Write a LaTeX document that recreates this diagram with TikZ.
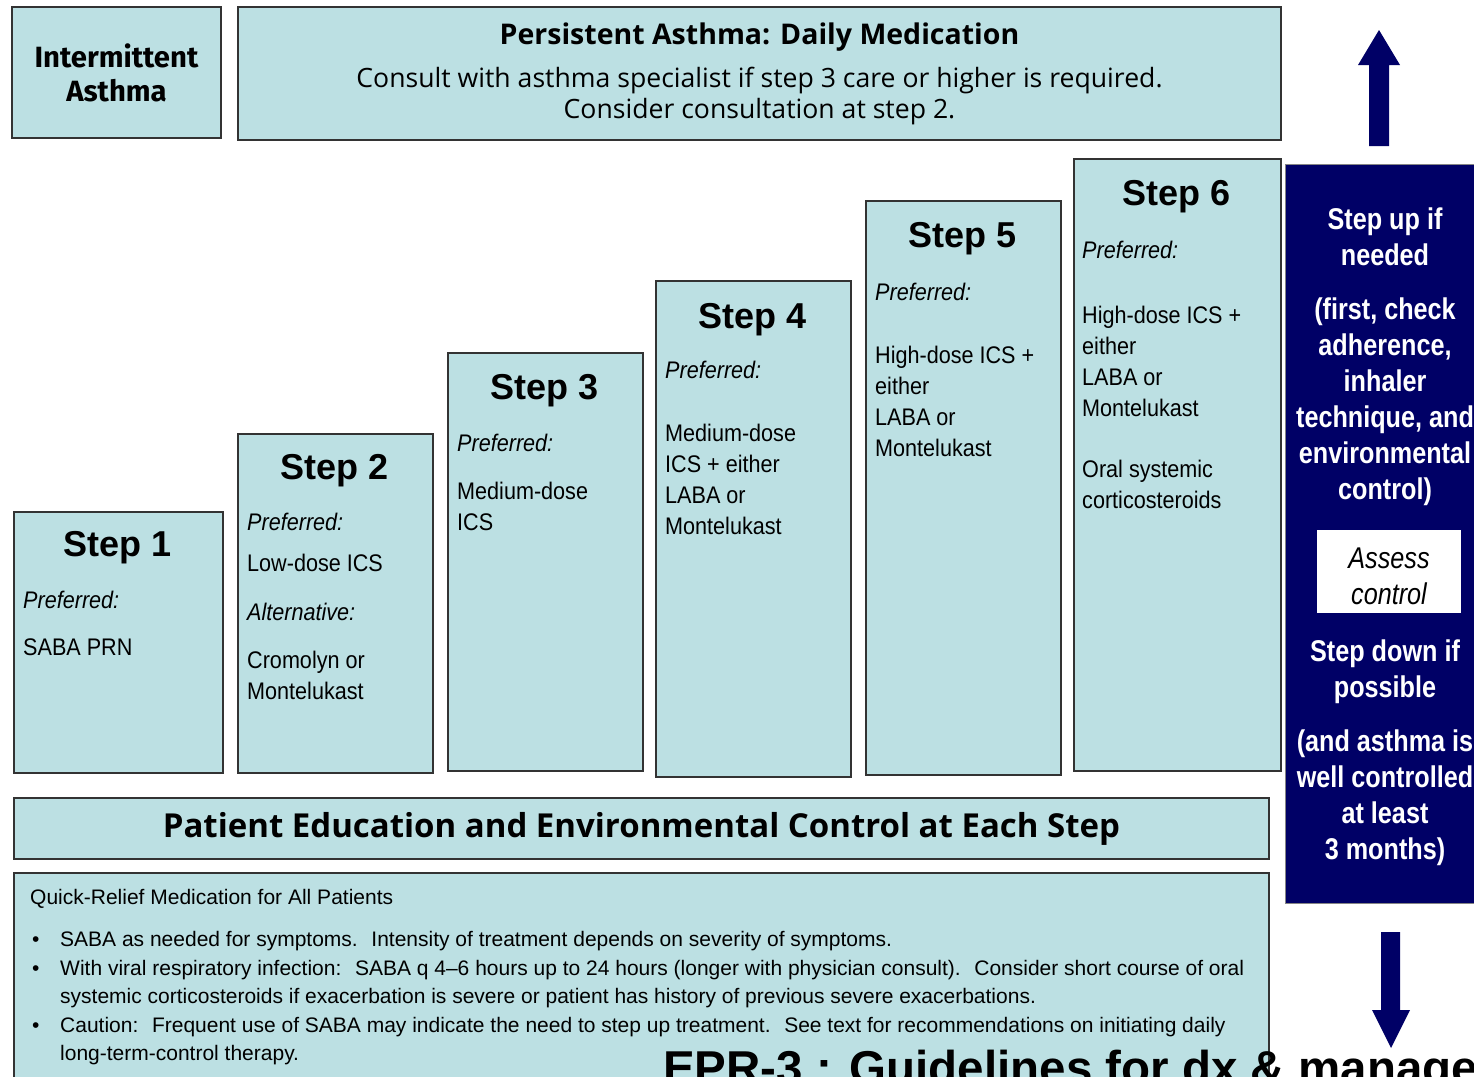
\documentclass[tikz,border=0pt]{standalone}
\usepackage{fontspec}
\setmainfont{Liberation Sans}
\newfontfamily\humfont{Fira Sans}
\newfontfamily\widefont{Open Sans}
\newfontfamily\narrowfont[FakeStretch=0.9]{Liberation Sans}
\newfontfamily\navyfont[FakeStretch=0.84]{Liberation Sans}
\usetikzlibrary{positioning}
\definecolor{boxblue}{HTML}{BCE0E3}
\definecolor{navy}{HTML}{000066}
\definecolor{edge}{HTML}{333333}

\begin{document}
\begin{tikzpicture}[
    x=1pt, y=-1pt,
    panel/.style={draw=edge, line width=2pt, fill=boxblue, inner sep=0pt, anchor=north west},
    steptitle/.style={anchor=base, inner sep=0pt, font=\fontsize{36}{40}\selectfont\bfseries},
    steptext/.style={anchor=north west, inner sep=0pt, align=left,
      font=\narrowfont\fontsize{24}{31}\selectfont},
    navytext/.style={anchor=north, inner sep=0pt, align=center, text=white,
      font=\navyfont\fontsize{30}{36}\selectfont\bfseries},
  ]
  \useasboundingbox (0,0) rectangle (1474,1076);
  \clip (0,0) rectangle (1474,1076);
  \fill[white] (0,0) rectangle (1474,1076);

  % top row
  \node[panel, minimum width=209pt, minimum height=131pt, align=center,
        font=\humfont\fontsize{29.3}{34}\selectfont\bfseries] (inter) at (11,6)
    {Intermittent\\Asthma};
  \node[panel, minimum width=1043pt, minimum height=133pt, align=center,
        font=\widefont\fontsize{26.6}{31}\selectfont] (persist) at (237,6)
    {{\bfseries\fontsize{28.5}{31}\selectfont Persistent Asthma: Daily Medication}\\[12pt]
     Consult with asthma specialist if step 3 care or higher is required.\\
     Consider consultation at step 2.};

  % the six steps
  \node[panel, minimum width=209pt, minimum height=261pt] (step1) at (13,511) {};
  \node[steptitle] (step1t) at (117.5,556) {Step 1};
  \node[steptext] (step1p) at (23,591) {\textit{Preferred:}\\[16pt] SABA PRN};

  \node[panel, minimum width=195pt, minimum height=339pt] (step2) at (237,433) {};
  \node[steptitle] (step2t) at (334.5,479) {Step 2};
  \node[steptext] (step2p) at (247,513)
    {\textit{Preferred:}\\[10pt] Low-dose ICS\\[18pt] \textit{Alternative:}\\[17pt]
     Cromolyn or\\ Montelukast};

  \node[panel, minimum width=195pt, minimum height=418pt] (step3) at (447,352) {};
  \node[steptitle] (step3t) at (544.5,399) {Step 3};
  \node[steptext] (step3p) at (457,434)
    {\textit{Preferred:}\\[17pt] Medium-dose\\ ICS};

  \node[panel, minimum width=195pt, minimum height=496pt] (step4) at (655,280) {};
  \node[steptitle] (step4t) at (752.5,328) {Step 4};
  \node[steptext] (step4p) at (665,361)
    {\textit{Preferred:}\\[32pt] Medium-dose\\ ICS + either\\ LABA or\\ Montelukast};

  \node[panel, minimum width=195pt, minimum height=574pt] (step5) at (865,200) {};
  \node[steptitle] (step5t) at (962.5,247) {Step 5};
  \node[steptext] (step5p) at (875,283)
    {\textit{Preferred:}\\[32pt] High-dose ICS +\\ either\\ LABA or\\ Montelukast};

  \node[panel, minimum width=207pt, minimum height=612pt] (step6) at (1073,158) {};
  \node[steptitle] (step6t) at (1176.5,205) {Step 6};
  \node[steptext] (step6p) at (1082,241)
    {\textit{Preferred:}\\[34pt] High-dose ICS +\\ either\\ LABA or\\ Montelukast\\[30pt]
     Oral systemic\\ corticosteroids};

  % bottom bands
  \node[panel, minimum width=1255pt, minimum height=61pt,
        font=\widefont\fontsize{33}{36}\selectfont\bfseries] (edu) at (13,797)
    {Patient Education and Environmental Control at Each Step};
  \node[panel, minimum width=1255pt, minimum height=230pt] (relief) at (13,872) {};
  \node[anchor=north west, inner sep=0pt, align=left,
        font=\fontsize{21}{28.5}\selectfont] (relieft) at (30,889)
    {Quick-Relief Medication for All Patients\\[14pt]
     \hspace*{2pt}\makebox[28pt][l]{\textbullet}SABA as needed for symptoms.~ Intensity of treatment depends on severity of symptoms.\\
     \hspace*{2pt}\makebox[28pt][l]{\textbullet}With viral respiratory infection:~ SABA q 4–6 hours up to 24 hours (longer with physician consult).~ Consider short course of oral\\
     \hspace*{30pt}systemic corticosteroids if exacerbation is severe or patient has history of previous severe exacerbations.\\
     \hspace*{2pt}\makebox[28pt][l]{\textbullet}Caution:~ Frequent use of SABA may indicate the need to step up treatment.~ See text for recommendations on initiating daily\\
     \hspace*{30pt}long-term-control therapy.};

  % step up / step down column
  \node[draw=edge!60, fill=navy, anchor=north west, minimum width=200pt,
        minimum height=739pt] (ctrl) at (1285,164) {};
  \node[navytext] (stepup) at (1385,208)
    {Step up if\\ needed\\[18pt] (first, check\\ adherence,\\ inhaler\\ technique, and\\
     environmental\\ control)};
  \node[fill=white, minimum width=144pt, minimum height=83pt] (assess) at (1389,571.5) {};
  \node[align=center, inner sep=0pt, font=\navyfont\fontsize{30}{36}\selectfont\itshape]
    (assesst) at (1389,576) {Assess\\ control};
  \node[navytext] (stepdown) at (1385,640)
    {Step down if\\ possible\\[18pt] (and asthma is\\ well controlled\\ at least\\ 3 months)};

  \fill[navy] (1369,146) -- (1369,65) -- (1358,65) -- (1379,30) -- (1400,65)
    -- (1389,65) -- (1389,146) -- cycle;
  \fill[navy] (1381,932) -- (1381,1010) -- (1372,1010) -- (1391,1048) -- (1410,1010)
    -- (1400,1010) -- (1400,932) -- cycle;

  \node[anchor=base west, inner sep=0pt, font=\fontsize{47.5}{50}\selectfont\bfseries]
    (epr) at (663,1084) {EPR-3 : Guidelines for dx \& manage};
\end{tikzpicture}
\end{document}
